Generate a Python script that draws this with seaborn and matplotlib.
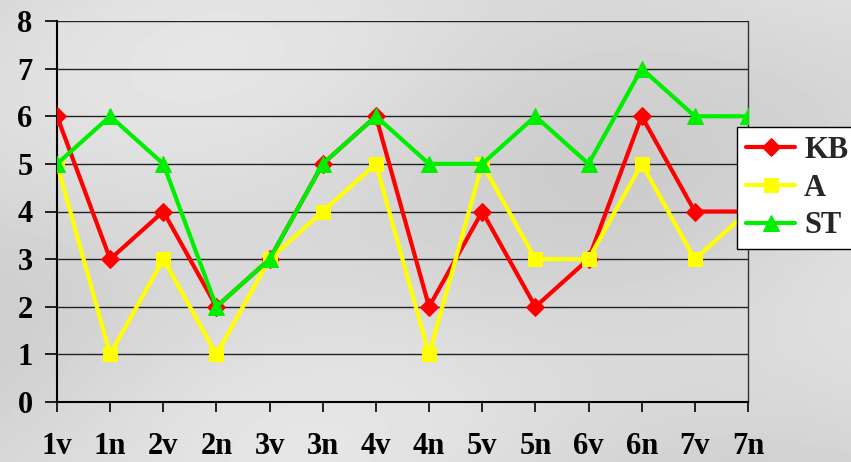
import numpy as np
import pandas as pd
import matplotlib
matplotlib.use("Agg")
import matplotlib.pyplot as plt
import seaborn as sns

categories = ["1v", "1n", "2v", "2n", "3v", "3n", "4v", "4n", "5v", "5n", "6v", "6n", "7v", "7n"]
kb = [6, 3, 4, 2, 3, 5, 6, 2, 4, 2, 3, 6, 4, 4]
a = [5, 1, 3, 1, 3, 4, 5, 1, 5, 3, 3, 5, 3, 4]
st = [5, 6, 5, 2, 3, 5, 6, 5, 5, 6, 5, 7, 6, 6]
series_names = ["KB", "A", "ST"]

sns.set_theme(style="white")
plt.rcParams['font.family'] = ['Liberation Serif', 'DejaVu Serif']
plt.rcParams['font.weight'] = 'bold'

fig = plt.figure(figsize=(8.51, 4.62), dpi=100)
fig.patch.set_facecolor('#dcdcdc')
# subtle background gradient
bg = fig.add_axes([0, 0, 1, 1], zorder=-10)
gx = np.linspace(0, 1, 200)
gy = np.linspace(0, 1, 120)
GX, GY = np.meshgrid(gx, gy)
grad = 0.85 + 0.05 * np.sin(GX * 5 + GY * 3) * np.cos(GY * 4 - GX * 2)
bg.imshow(grad, cmap='gray', vmin=0, vmax=1, aspect='auto', extent=[0, 1, 0, 1])
bg.axis('off')

ax = fig.add_axes([57/851, 1 - 402/462, (748-57)/851, (402-21)/462])
ax.patch.set_alpha(0)

idx = np.arange(len(categories))
df = pd.DataFrame({"cat": idx, "KB": kb, "A": a, "ST": st})
styles = {"KB": ("#ff0000", "D", 9), "A": ("#ffff00", "s", 10), "ST": ("#00ee00", "^", 11)}
for name in series_names:
    c, m, ms = styles[name]
    sns.lineplot(data=df, x="cat", y=name, ax=ax, color=c, marker=m, markersize=ms,
                 markeredgecolor=c, linewidth=3, label=name, zorder=3)

ax.set_xlim(0, len(categories) - 1)
ax.set_ylim(0, 8)
ax.set_yticks(range(0, 9))
ax.set_xticks(idx)
ax.set_xticklabels(categories)
ax.set_xlabel("")
ax.set_ylabel("")
ax.yaxis.grid(True, color='#222222', linewidth=1)
ax.xaxis.grid(False)
ax.spines["top"].set_visible(False)
ax.spines["left"].set_color('black')
ax.spines["left"].set_linewidth(1.5)
ax.spines["bottom"].set_color('black')
ax.spines["bottom"].set_linewidth(1.5)
ax.spines["right"].set_color('#333333')
ax.spines["right"].set_linewidth(1)
ax.tick_params(axis='both', which='both', width=1.2, color='black',
               labelsize=22, labelcolor='black')
ax.tick_params(axis='x', length=7.5, pad=14, direction='out', bottom=True)
ax.tick_params(axis='y', length=8.5, pad=9, direction='out', left=True)
for t in ax.get_xticklabels() + ax.get_yticklabels():
    t.set_fontweight('bold')

leg = ax.legend(loc='upper left', bbox_to_anchor=(737/851, 1 - 127/462), bbox_transform=fig.transFigure,
                frameon=True, fancybox=False, edgecolor='black', facecolor='white', framealpha=1,
                prop={'family': 'Liberation Serif', 'weight': 'bold', 'size': 22},
                handlelength=1.6, borderpad=0.3, labelspacing=0.28, handletextpad=0.3, borderaxespad=0)
leg.get_frame().set_linewidth(1)
leg.set_zorder(10)

fig.savefig("out.png", dpi=100, facecolor=fig.get_facecolor())
